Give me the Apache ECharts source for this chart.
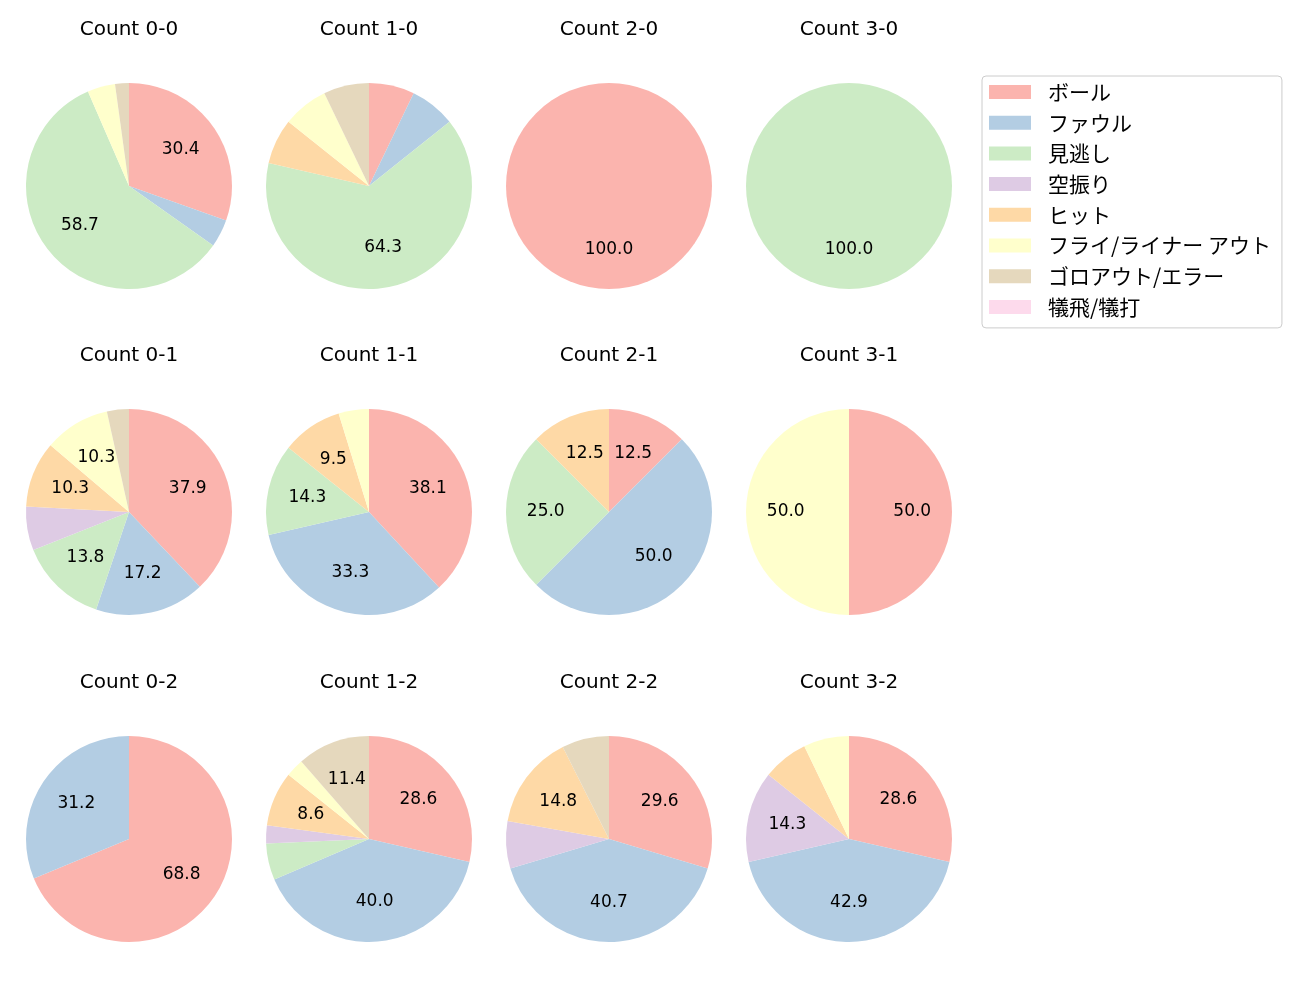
<!DOCTYPE html>
<html><head><meta charset="utf-8">
<script src="https://cdn.jsdelivr.net/npm/echarts@6/dist/echarts.min.js"></script>
<style>html,body{margin:0;padding:0;background:#fff}#c{width:1300px;height:1000px}</style>
</head><body><div id="c"></div>
<script>
const categories = ['ボール','ファウル','見逃し','空振り','ヒット','フライ/ライナー アウト','ゴロアウト/エラー','犠飛/犠打'];
const colors = ['#fbb4ae','#b3cde3','#ccebc5','#decbe4','#fed9a6','#ffffcc','#e5d8bd','#fddaec'];
const titles = ['Count 0-0','Count 1-0','Count 2-0','Count 3-0','Count 0-1','Count 1-1','Count 2-1','Count 3-1','Count 0-2','Count 1-2','Count 2-2','Count 3-2'];
// counts per category (same order as categories)
const c00 = [14,2,27,0,0,2,1,0];
const c10 = [1,1,9,0,1,1,1,0];
const c20 = [1,0,0,0,0,0,0,0];
const c30 = [0,0,1,0,0,0,0,0];
const c01 = [11,5,4,2,3,3,1,0];
const c11 = [8,7,3,0,2,1,0,0];
const c21 = [1,4,2,0,1,0,0,0];
const c31 = [1,0,0,0,0,1,0,0];
const c02 = [11,5,0,0,0,0,0,0];
const c12 = [10,14,2,1,3,1,4,0];
const c22 = [8,11,0,2,4,0,2,0];
const c32 = [4,6,0,2,1,1,0,0];
const counts = [c00,c10,c20,c30,c01,c11,c21,c31,c02,c12,c22,c32];

const colX = [129,369,609,849];
const rowY = [186,512,839];
const R = 103;
const LATIN = '"DejaVu Sans", sans-serif';
const CJK = '"Noto Sans CJK JP", "Noto Sans", sans-serif';

function fmt1(pct) {
  // round half to even, like Python's '%1.1f'
  const x = pct * 10, f = Math.floor(x), d = x - f;
  let r;
  if (Math.abs(d - 0.5) < 1e-9) r = (f % 2 === 0) ? f : f + 1;
  else r = Math.round(x);
  return (r / 10).toFixed(1);
}

const title = [];
const series = [];
counts.forEach((vals, i) => {
  const cx = colX[i % 4], cy = rowY[Math.floor(i / 4)];
  const total = vals.reduce((a, b) => a + b, 0);
  title.push({text: titles[i], left: cx, top: cy - 166, textAlign: 'center', padding: 0,
    textStyle: {fontFamily: LATIN, fontSize: 20, fontWeight: 'normal', color: '#000'}});
  series.push({
    type: 'pie', center: [cx, cy], radius: [0, R], startAngle: 90, clockwise: true,
    animation: false, silent: true, label: {show: false}, labelLine: {show: false},
    data: categories.map((n, k) => ({name: n, value: vals[k], itemStyle: {color: colors[k]}}))
  });
  series.push({
    type: 'pie', center: [cx, cy], radius: [R * 0.17, R], startAngle: 90, clockwise: true,
    animation: false, silent: true, labelLine: {show: false},
    itemStyle: {color: 'rgba(0,0,0,0)'},
    label: {show: true, position: 'inside', fontFamily: LATIN, fontSize: 17, color: '#000',
      formatter: p => { const pct = p.value / total * 100; return pct >= 8 ? fmt1(pct) : ''; }},
    data: vals.map(v => ({value: v}))
  });
});

const chart = echarts.init(document.getElementById('c'), null, {renderer: 'canvas'});
chart.setOption({
  animation: false,
  title: title,
  legend: {
    data: categories, orient: 'vertical', left: 982, top: 76,
    itemWidth: 42, itemHeight: 14, itemGap: 8.7, icon: 'rect',
    padding: [5, 11, 10, 7], borderColor: '#cccccc', borderWidth: 1, borderRadius: 4,
    textStyle: {fontFamily: CJK, fontSize: 21, color: '#000', lineHeight: 22, padding: [0, 0, 0, 12]}
  },
  series: series
});
</script></body></html>
